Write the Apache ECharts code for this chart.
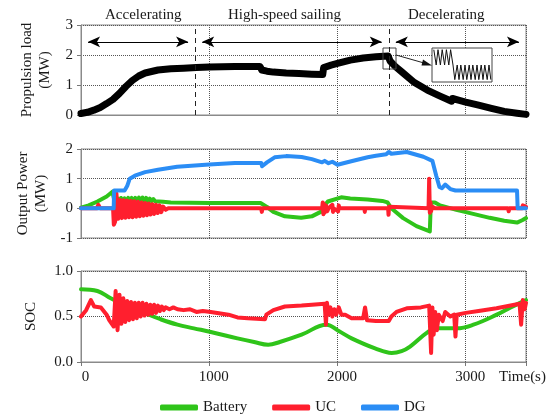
<!DOCTYPE html>
<html>
<head>
<meta charset="utf-8">
<script src="https://cdn.jsdelivr.net/npm/echarts@6/dist/echarts.min.js"></script>
<style>
  html, body { margin: 0; padding: 0; background: #fff; }
  #chart { width: 556px; height: 415px; }
</style>
</head>
<body>
<div id="chart"></div>
<script>
// 时间轴 (s)
var timeMax = 3470;
var timeTicks = [0, 1000, 2000, 3000];

// 航行阶段
var phaseNames = ['Accelerating', 'High-speed sailing', 'Decelerating'];
var phaseBounds = [0, 890, 2400, 3470];
var arrowLevel = 2.44;

// 推进负载 (MW)
var loadTime = [0, 50, 100, 150, 200, 250, 300, 350, 400, 450, 500, 600, 700, 800, 900, 1000, 1100, 1200, 1300, 1395,
  1410, 1450, 1500, 1600, 1700, 1800, 1885, 1892, 1950, 2000, 2100, 2200, 2300, 2395, 2410, 2450, 2500, 2600, 2700, 2800,
  2890, 2897, 2950, 3000, 3100, 3200, 3300, 3400, 3470];
var loadMW = [0.05, 0.09, 0.16, 0.25, 0.38, 0.52, 0.72, 0.95, 1.15, 1.3, 1.4, 1.5, 1.54, 1.56, 1.58, 1.6, 1.61, 1.62, 1.62, 1.62,
  1.5, 1.46, 1.43, 1.4, 1.38, 1.36, 1.35, 1.58, 1.66, 1.72, 1.83, 1.9, 1.94, 1.97, 1.8, 1.62, 1.44, 1.08, 0.83, 0.63,
  0.46, 0.55, 0.49, 0.43, 0.33, 0.22, 0.12, 0.06, 0.02];

// 输出功率 (MW)
var batTime = [0, 60, 128, 200, 245, 256, 270, 284, 298, 312, 326, 340, 354, 368, 382, 396, 410, 424, 438, 452,
  466, 480, 494, 508, 522, 536, 550, 564, 578, 592, 606, 620, 640, 700, 1000, 1400, 1450, 1500, 1590, 1717,
  1800, 1873, 1900, 1925, 2029, 2100, 2235, 2350, 2390, 2420, 2512, 2616, 2720, 2728, 2760, 2800, 2927, 3050, 3187, 3300,
  3400, 3440, 3470];
var batMW = [0.02, 0.1, 0.23, 0.4, 0.56, 0.35, 0.2, 0.34, 0.2, 0.35, 0.21, 0.34, 0.21, 0.35, 0.22, 0.35, 0.22, 0.35, 0.23, 0.36,
  0.23, 0.36, 0.24, 0.35, 0.24, 0.33, 0.24, 0.31, 0.24, 0.28, 0.23, 0.26, 0.22, 0.2, 0.18, 0.18, 0.05, -0.12, -0.27, -0.32,
  -0.27, -0.11, 0.1, 0.23, 0.37, 0.33, 0.3, 0.25, 0.2, 0, -0.33, -0.6, -0.78, 0.2, 0.2, 0.1, -0.05, -0.18, -0.32, -0.42,
  -0.48, -0.4, -0.33];

var ucTime = [0, 125, 135, 150, 250, 256, 266, 276, 290, 304, 318, 332, 346, 360, 374, 388, 402, 416, 430, 444,
  458, 472, 486, 500, 514, 528, 542, 556, 570, 584, 598, 612, 626, 640, 660, 680, 1405, 1410, 1415, 1880,
  1885, 1890, 1895, 1900, 1910, 1920, 1930, 1960, 1965, 1970, 2005, 2010, 2015, 2210, 2213, 2216, 2395, 2398, 2402, 2406,
  2710, 2715, 2720, 2725, 2730, 2740, 2760, 3330, 3335, 3340, 3440, 3445, 3470];
var ucMW = [0, 0, 0.12, 0, 0, -0.55, -0.45, 0.5, -0.35, 0.28, -0.33, 0.27, -0.32, 0.26, -0.3, 0.25, -0.3, 0.24, -0.28, 0.22,
  -0.27, 0.2, -0.25, 0.18, -0.23, 0.16, -0.21, 0.14, -0.19, 0.12, -0.16, 0.1, -0.13, 0.06, -0.05, 0, 0, -0.12, 0, 0,
  0.2, -0.2, 0.15, -0.15, 0.1, -0.1, 0, 0.12, -0.12, 0, -0.1, 0.1, 0, 0, -0.12, 0, 0, -0.22, 0.05, 0,
  0, 1.0, -0.15, 0.2, -0.1, 0.05, 0, 0, -0.1, 0, 0, 0.1, 0.05];

var dgTime = [0, 255, 258, 340, 360, 380, 420, 500, 600, 750, 1000, 1200, 1405, 1412, 1450, 1510, 1600, 1720, 1800, 1880,
  1900, 1930, 1960, 2000, 2100, 2235, 2300, 2380, 2400, 2420, 2540, 2670, 2740, 2770, 2795, 2815, 2840, 2880, 2920, 3400,
  3405, 3470];
var dgMW = [0, 0, 0.6, 0.6, 0.75, 1.0, 1.1, 1.22, 1.3, 1.4, 1.48, 1.53, 1.53, 1.42, 1.55, 1.72, 1.76, 1.73, 1.66, 1.55,
  1.6, 1.52, 1.57, 1.47, 1.58, 1.72, 1.77, 1.82, 1.9, 1.84, 1.9, 1.74, 1.6, 1.1, 0.72, 0.68, 0.8, 0.65, 0.6, 0.6,
  0, 0];

// SOC
var socBatTime = [0, 128, 232, 362, 493, 620, 752, 880, 1012, 1220, 1350, 1460, 1550, 1720, 1915, 2010, 2110, 2293, 2423, 2500,
  2566, 2696, 2774, 2930, 3060, 3242, 3350, 3470];
var socBat = [0.8, 0.78, 0.7, 0.61, 0.54, 0.47, 0.41, 0.37, 0.33, 0.26, 0.22, 0.19, 0.22, 0.3, 0.41, 0.34, 0.26, 0.15, 0.1, 0.12,
  0.17, 0.32, 0.37, 0.37, 0.41, 0.52, 0.6, 0.68];

var socUcTime = [0, 40, 77, 103, 155, 200, 220, 255, 270, 285, 300, 315, 330, 345, 360, 375, 390, 405, 420, 435,
  450, 465, 480, 495, 510, 525, 540, 555, 570, 585, 600, 615, 630, 645, 660, 690, 720, 752, 800, 850,
  900, 950, 1012, 1100, 1150, 1220, 1300, 1435, 1445, 1500, 1590, 1720, 1800, 1900, 1910, 1918, 1930, 1945, 1960, 1975,
  1990, 2010, 2030, 2060, 2110, 2200, 2215, 2230, 2300, 2400, 2420, 2460, 2540, 2650, 2715, 2730, 2740, 2750, 2762, 2775,
  2790, 2820, 2840, 2880, 2910, 2920, 2930, 3000, 3100, 3240, 3350, 3420, 3432, 3445, 3460, 3470];
var socUc = [0.5, 0.57, 0.68, 0.61, 0.6, 0.52, 0.46, 0.39, 0.78, 0.35, 0.74, 0.42, 0.7, 0.44, 0.67, 0.46, 0.66, 0.47, 0.65, 0.48,
  0.65, 0.5, 0.65, 0.51, 0.64, 0.52, 0.63, 0.53, 0.63, 0.54, 0.62, 0.56, 0.61, 0.57, 0.6, 0.58, 0.6, 0.58, 0.57, 0.58,
  0.55, 0.56, 0.55, 0.53, 0.52, 0.49, 0.48, 0.47, 0.52, 0.57, 0.61, 0.62, 0.63, 0.64, 0.41, 0.65, 0.52, 0.6, 0.5, 0.58,
  0.52, 0.6, 0.52, 0.52, 0.48, 0.48, 0.6, 0.46, 0.45, 0.45, 0.5, 0.55, 0.59, 0.6, 0.62, 0.1, 0.6, 0.3, 0.55, 0.35,
  0.52, 0.45, 0.55, 0.5, 0.52, 0.28, 0.52, 0.54, 0.56, 0.59, 0.62, 0.64, 0.41, 0.68, 0.58, 0.65];

// 放大图 (局部振荡)
var insetX = [3, 7, 10, 14, 17, 21, 24, 28, 31, 35, 38, 42, 45, 48, 52, 55, 58, 62, 65, 68, 72, 75, 78, 82, 85, 88, 92, 95, 98];
var insetY = [0.95, 0.5, 0.95, 0.5, 0.95, 0.5, 0.95, 0.5, 0.95, 0.5,
  0.07, 0.5, 0.07, 0.5, 0.07, 0.5, 0.07, 0.5, 0.07, 0.5, 0.07, 0.5, 0.07, 0.5, 0.07, 0.5, 0.07, 0.5, 0.07];

var FONT = "'Liberation Serif', 'Times New Roman', serif";
var TXT = '#1a1a1a';
var GREEN = '#2fc41a';
var RED = '#ff1f2e';
var BLUE = '#2b8df5';

function zip(a, b) {
  return a.map(function (v, i) { return [v, b[i]]; });
}

function xAxisFor(gridIndex, showLabel) {
  return {
    type: 'value', gridIndex: gridIndex, min: 0, max: timeMax, interval: 1000,
    axisLine: { show: true, lineStyle: { color: '#8a8a8a', width: 1 } },
    axisTick: { show: showLabel, inside: false, length: 4, lineStyle: { color: '#777' } },
    axisLabel: {
      show: showLabel, margin: 8, color: TXT, fontFamily: FONT, fontSize: 15,
      padding: [0, 0, 0, 9],
      formatter: function (v) { return timeTicks.indexOf(v) >= 0 ? String(v) : ''; }
    },
    splitLine: { show: true, lineStyle: { type: 'dotted', color: '#555', width: 1 } }
  };
}

function yAxisFor(gridIndex, min, max, interval, name, gap, fmt) {
  return {
    type: 'value', gridIndex: gridIndex, min: min, max: max, interval: interval,
    name: name, nameLocation: 'middle', nameRotate: 90, nameGap: gap,
    nameTextStyle: { color: TXT, fontFamily: FONT, fontSize: 15, lineHeight: 18 },
    axisLine: { show: true, lineStyle: { color: '#8a8a8a', width: 1 } },
    axisTick: { show: true, length: 4, lineStyle: { color: '#777' } },
    axisLabel: { margin: 8, color: TXT, fontFamily: FONT, fontSize: 15, formatter: fmt },
    splitLine: { show: true, lineStyle: { type: 'dotted', color: '#555', width: 1 } }
  };
}

function lineSeries(name, x, y, data, color, width) {
  return {
    name: name, type: 'line', xAxisIndex: x, yAxisIndex: y,
    data: data, showSymbol: false, symbol: 'none',
    lineStyle: { color: color, width: width, join: 'round', cap: 'round' },
    itemStyle: { color: color },
    emphasis: { disabled: true }, animation: false, z: 3
  };
}

// 阶段箭头
var arrowData = phaseNames.map(function (n, i) {
  return [
    { coord: [phaseBounds[i] + 55, arrowLevel] },
    { coord: [phaseBounds[i + 1] - 55, arrowLevel] }
  ];
});

var chart = echarts.init(document.getElementById('chart'), null, { renderer: 'canvas' });

var option = {
  backgroundColor: '#fff',
  animation: false,
  grid: [
    { left: 81, top: 25, width: 445, height: 90, show: true, borderColor: '#8a8a8a', borderWidth: 1 },
    { left: 81, top: 149, width: 445, height: 89, show: true, borderColor: '#8a8a8a', borderWidth: 1 },
    { left: 81, top: 271, width: 445, height: 91, show: true, borderColor: '#8a8a8a', borderWidth: 1 },
    { left: 432, top: 48, width: 60, height: 34, show: false }
  ],
  xAxis: [
    xAxisFor(0, false),
    xAxisFor(1, false),
    xAxisFor(2, true),
    { type: 'value', gridIndex: 3, min: 0, max: 100, show: false }
  ],
  yAxis: [
    yAxisFor(0, 0, 3, 1, 'Propulsion load\n(MW)', 27),
    yAxisFor(1, -1, 2, 1, 'Output Power\n(MW)', 27),
    yAxisFor(2, 0, 1, 0.5, 'SOC', 41, function (v) { return v.toFixed(1); }),
    { type: 'value', gridIndex: 3, min: 0, max: 1, show: false }
  ],
  legend: {
    data: ['Battery', 'UC', 'DG'],
    left: 155, top: 395,
    itemWidth: 38, itemHeight: 6, itemGap: 25,
    icon: 'roundRect',
    textStyle: { color: TXT, fontFamily: FONT, fontSize: 15 },
    selectedMode: false
  },
  graphic: [
    { type: 'text', left: 105, top: 8, style: { text: phaseNames[0], font: '15px ' + FONT, fill: TXT } },
    { type: 'text', left: 228, top: 8, style: { text: phaseNames[1], font: '15px ' + FONT, fill: TXT } },
    { type: 'text', left: 408, top: 8, style: { text: phaseNames[2], font: '15px ' + FONT, fill: TXT } },
    { type: 'text', left: 499, top: 370, style: { text: 'Time(s)', font: '15px ' + FONT, fill: TXT } },
    { type: 'rect', shape: { x: 432, y: 48, width: 60, height: 34 }, style: { fill: '#fff', stroke: '#444', lineWidth: 1 }, z: 1 },
    { type: 'rect', shape: { x: 383, y: 48, width: 13, height: 21 }, style: { fill: 'none', stroke: '#444', lineWidth: 1 }, z: 5 },
    { type: 'line', shape: { x1: 396, y1: 55, x2: 424, y2: 63 }, style: { stroke: '#222', lineWidth: 1 }, z: 5 },
    { type: 'polygon', shape: { points: [[432, 65.5], [423, 59.5], [421.5, 65.5]] }, style: { fill: '#111' }, z: 5 }
  ],
  series: [
    {
      name: 'load', type: 'line', xAxisIndex: 0, yAxisIndex: 0,
      data: zip(loadTime, loadMW), showSymbol: false, symbol: 'none',
      lineStyle: { color: '#000', width: 7, join: 'round', cap: 'round' },
      emphasis: { disabled: true }, z: 3,
      markLine: {
        silent: true, animation: false,
        symbol: ['arrow', 'arrow'], symbolSize: [8, 12],
        label: { show: false },
        lineStyle: { color: '#000', width: 1, type: 'solid' },
        emphasis: { disabled: true },
        data: arrowData
      }
    },
    {
      name: 'phase', type: 'line', xAxisIndex: 0, yAxisIndex: 0,
      data: [], showSymbol: false,
      markLine: {
        silent: true, animation: false, symbol: 'none',
        label: { show: false },
        lineStyle: { color: '#222', width: 1, type: [5, 4] },
        emphasis: { disabled: true },
        data: [{ xAxis: phaseBounds[1] }, { xAxis: phaseBounds[2] }]
      }
    },
    lineSeries('Battery', 1, 1, zip(batTime, batMW), GREEN, 4),
    lineSeries('UC', 1, 1, zip(ucTime, ucMW), RED, 4),
    lineSeries('DG', 1, 1, zip(dgTime, dgMW), BLUE, 4),
    lineSeries('Battery', 2, 2, zip(socBatTime, socBat), GREEN, 4),
    lineSeries('UC', 2, 2, zip(socUcTime, socUc), RED, 4),
    {
      name: 'inset', type: 'line', xAxisIndex: 3, yAxisIndex: 3,
      data: zip(insetX, insetY), showSymbol: false, symbol: 'none',
      lineStyle: { color: '#111', width: 1 }, emphasis: { disabled: true }, z: 6
    }
  ]
};

option.series[5].smooth = 0.4;
chart.setOption(option);
</script>
</body>
</html>
